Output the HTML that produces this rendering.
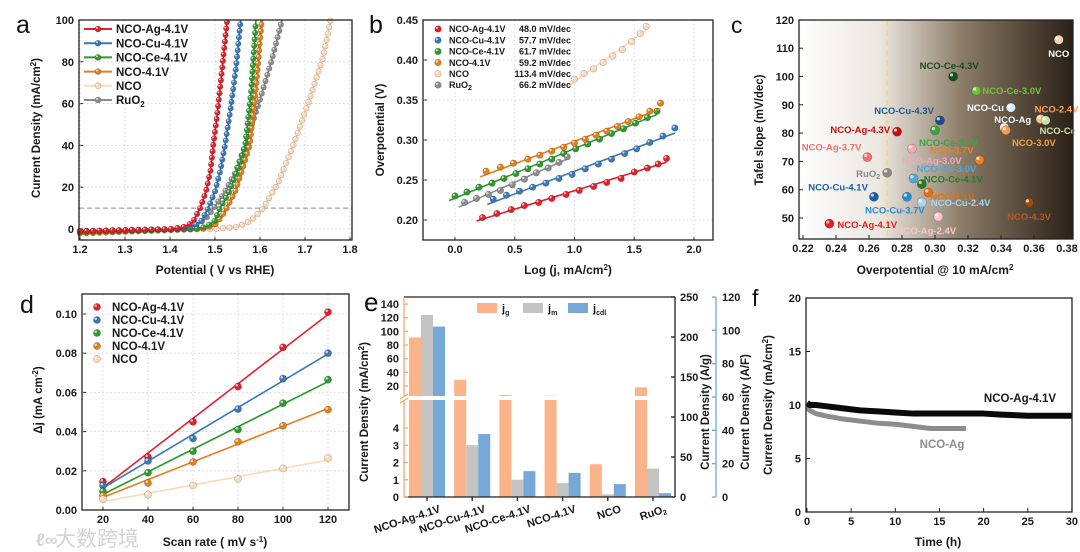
<!DOCTYPE html>
<html><head><meta charset="utf-8"><style>
html,body{margin:0;padding:0;background:#fff;width:1080px;height:552px;overflow:hidden}
svg{display:block;font-family:"Liberation Sans","Noto Sans CJK SC",sans-serif}
.t{font-weight:bold;font-size:11px;fill:#1a1a1a}
.ti{font-weight:bold;font-size:11.5px;fill:#1a1a1a}
</style></head><body>
<svg id="fig" width="1080" height="552" viewBox="0 0 1080 552" xmlns="http://www.w3.org/2000/svg">
<defs>
<linearGradient id="cg" x1="0" x2="1" y1="0" y2="0"><stop offset="0" stop-color="#ffffff"/><stop offset="0.3" stop-color="#ebe6df"/><stop offset="0.6" stop-color="#8a7a66"/><stop offset="1" stop-color="#2a2016"/></linearGradient>
</defs>
<g id="pa"></g>
<g id="pb"></g>
<g id="pc"></g>
<g id="pd"></g>
<g id="pe"></g>
<g id="pf"></g>
<text x="55" y="546" font-size="21" fill="#d4d4d4">大数跨境</text>
<text x="36" y="546" font-size="18" fill="#d4d4d4" font-weight="bold">ℓ∞</text>
</svg>
<script>
// ---------- data ----------
const lsvNames=['NCO-Ag-4.1V','NCO-Cu-4.1V','NCO-Ce-4.1V','NCO-4.1V','NCO','RuO2'];
const lsvColors=['#e0202a','#3a78b8','#2e9a2e','#e08020','#fbd9b8','#8c8c8c'];
const lsvV_Ag=[1.2,1.40,1.43,1.45,1.467,1.48,1.49,1.496,1.505,1.515,1.527];
const lsvJ_Ag=[-1,0,1,3,10,18,28,40,55,75,100];
const lsvV_Cu=[1.2,1.42,1.45,1.47,1.485,1.50,1.512,1.522,1.535,1.547,1.557];
const lsvJ_Cu=[-1,0,1,4,10,18,28,40,58,78,100];
const lsvV_Ce=[1.2,1.45,1.48,1.50,1.511,1.53,1.55,1.567,1.58,1.591];
const lsvJ_Ce=[-1.5,0,1,4,10,17,28,40,65,100];
const lsvV_41=[1.2,1.47,1.50,1.515,1.526,1.545,1.56,1.577,1.59,1.604];
const lsvJ_41=[-2.2,0,2,6,10,18,28,40,65,100];
const lsvV_NCO=[1.2,1.5,1.55,1.58,1.607,1.64,1.674,1.71,1.74,1.757];
const lsvJ_NCO=[-1,0,1,4,10,22,40,62,82,100];
const lsvV_Ru=[1.2,1.42,1.46,1.48,1.497,1.52,1.545,1.567,1.6,1.625,1.649];
const lsvJ_Ru=[-1,0,2,5,10,17,27,40,62,80,100];
const aXTicks=[1.2,1.3,1.4,1.5,1.6,1.7,1.8];
const aYTicks=[0,20,40,60,80,100];

const tafNames=['NCO-Ag-4.1V','NCO-Cu-4.1V','NCO-Ce-4.1V','NCO-4.1V','NCO','RuO<tspan font-size="7" dy="2">2</tspan>'];
const tafSlopes=['48.0 mV/dec','57.7 mV/dec','61.7 mV/dec','59.2 mV/dec','113.4 mV/dec','66.2 mV/dec'];
const tafX_Ag=[0.23,0.35,0.47,0.58,0.70,0.81,0.93,1.04,1.16,1.27,1.39,1.50,1.61,1.70,1.77];
const tafY_Ag=[0.203,0.208,0.213,0.218,0.222,0.227,0.232,0.237,0.242,0.247,0.252,0.260,0.265,0.270,0.277];
const tafX_Cu=[0.32,0.43,0.54,0.65,0.76,0.87,0.98,1.09,1.20,1.31,1.42,1.52,1.63,1.74,1.84];
const tafY_Cu=[0.226,0.231,0.236,0.241,0.246,0.252,0.257,0.264,0.270,0.276,0.283,0.289,0.297,0.305,0.315];
const tafX_Ce=[0.0,0.10,0.20,0.31,0.41,0.51,0.61,0.71,0.81,0.91,1.01,1.11,1.21,1.31,1.41,1.51,1.61,1.69];
const tafY_Ce=[0.230,0.235,0.241,0.246,0.252,0.258,0.264,0.270,0.276,0.283,0.289,0.295,0.301,0.308,0.314,0.321,0.328,0.336];
const tafX_41=[0.26,0.38,0.49,0.61,0.71,0.81,0.91,1.00,1.09,1.18,1.27,1.36,1.45,1.54,1.63,1.72];
const tafY_41=[0.261,0.266,0.271,0.276,0.281,0.286,0.291,0.296,0.301,0.306,0.311,0.317,0.323,0.329,0.336,0.346];
const tafX_NCO=[1.0,1.08,1.16,1.24,1.32,1.40,1.48,1.55,1.60];
const tafY_NCO=[0.376,0.383,0.389,0.397,0.405,0.413,0.423,0.433,0.442];
const tafX_Ru=[0.08,0.18,0.28,0.38,0.48,0.58,0.68,0.78,0.87,0.94];
const tafY_Ru=[0.222,0.227,0.232,0.237,0.244,0.251,0.259,0.265,0.272,0.279];
const bXTicks=[0,0.5,1.0,1.5,2.0];
const bYTicks=[0.20,0.25,0.30,0.35,0.40,0.45];

const scLabels=['NCO','NCO-Ce-4.3V','NCO-Ce-3.0V','NCO-Cu','NCO-2.4V','NCO-Ce','NCO-Ag','NCO-3.0V','NCO-Cu-4.3V','NCO-Ag-4.3V','NCO-Ce-3.7V','NCO-Ag-3.7V','NCO-Ag-3.0V','NCO-3.7V','RuO2','NCO-Cu-3.0V','NCO-Ce-4.1V','NCO-Cu-4.1V','NCO-Cu-3.7V','NCO-4.1V','NCO-Cu-2.4V','NCO-4.3V','NCO-Ag-4.1V','NCO-Ag-2.4V'];
const scEta=[0.375,0.311,0.325,0.346,0.364,0.367,0.342,0.343,0.303,0.277,0.300,0.259,0.286,0.327,0.271,0.287,0.292,0.263,0.283,0.296,0.292,0.357,0.236,0.302];
const scTafel=[113,100,95,89,85,84.5,82,81,84.5,80.5,81,71.5,74.5,70.5,66,64,62,57.5,57.5,59,55.5,55.5,48,50.5];
const scColors=['#f6d2b4','#14501e','#74c040','#dcecfa','#f8c090','#c8e2a8','#f0e2e2','#f0a050','#1a4f8a','#c41010','#3aa63a','#f07070','#f2aabb','#f08020','#8a8a8a','#4aa8e0','#2a7a2a','#1a5faa','#2a8ad0','#e07010','#a8d4f2','#a04a10','#e42020','#f8c4cc'];
const scTextColors=['#ffffff','#14501e','#74c040','#ffffff','#f5a55a','#c8e2a8','#ffffff','#f5a040','#1a5a9a','#c41010','#3aa63a','#f07070','#f2aabb','#f08020','#8a8a8a','#4aa8e0','#2a7a2a','#1a5faa','#2a8ad0','#e07010','#a8d4f2','#b05a20','#e42020','#f8c4cc'];
// label offsets (layout)
const scDx=[0,-4,6,-7,-6,-6,-10,6,-6,-7,-16,-6,-10,-6,-7,3,2,-6,-12,2,9,0,8,-12];
const scDy=[14,-11,0,0,-10,10,-8,12,-10,-2,12,-10,12,-10,1,-10,-5,-10,13,4,0,14,1,14];
const scAnchor=['middle','middle','start','end','start','start','start','start','end','end','start','end','start','end','end','start','start','end','middle','start','start','middle','start','middle'];
const cXTicks=[0.22,0.24,0.26,0.28,0.30,0.32,0.34,0.36,0.38];
const cYTicks=[50,60,70,80,90,100,110,120];

const cdlNames=['NCO-Ag-4.1V','NCO-Cu-4.1V','NCO-Ce-4.1V','NCO-4.1V','NCO'];
const cdlColors=['#e0202a','#3a78b8','#2e9a2e','#e08020','#fbd9b8'];
const scanRates=[20,40,60,80,100,120];
const dj_Ag=[0.0145,0.027,0.045,0.063,0.083,0.101];
const dj_Cu=[0.0125,0.025,0.0365,0.0515,0.067,0.080];
const dj_Ce=[0.0095,0.019,0.030,0.041,0.0545,0.0665];
const dj_41=[0.0073,0.0138,0.0245,0.0348,0.043,0.0512];
const dj_NCO=[0.0055,0.0078,0.0125,0.0158,0.0212,0.0265];
const dXTicks=[20,40,60,80,100,120];
const dYTicks=[0,0.02,0.04,0.06,0.08,0.10];

const eCats=['NCO-Ag-4.1V','NCO-Cu-4.1V','NCO-Ce-4.1V','NCO-4.1V','NCO','RuO<tspan font-size="7" dy="2">2</tspan>'];
const jg=[91,29,7,5.8,1.9,18];
const jm=[124,3.0,1.0,0.8,0.15,1.65];
const jcdl=[107,3.65,1.5,1.4,0.75,0.22];
const eUpperTicks=[20,40,60,80,100,120,140];
const eLowerTicks=[0,1,2,3,4];
const eMidTicks=[0,50,100,150,200,250];
const eRightTicks=[0,20,40,60,80,100,120];

const timeBlack=[0,0.3,1,2,4,6,8,10,12,15,18,20,22,25,28,30];
const jBlack=[10.2,10.0,10.0,9.9,9.7,9.5,9.4,9.3,9.2,9.2,9.2,9.2,9.1,9.0,9.0,9.0];
const timeGray=[0,0.3,1,2,4,6,8,10,12,14,16,18];
const jGray=[9.8,9.5,9.2,9.0,8.7,8.5,8.3,8.2,8.0,7.8,7.8,7.8];
const fXTicks=[0,5,10,15,20,25,30];
const fYTicks=[0,5,10,15,20];

// ---------- helpers ----------
const NS='http://www.w3.org/2000/svg';
function mk(tag,attrs,parent){const e=document.createElementNS(NS,tag);for(const k in attrs)e.setAttribute(k,attrs[k]);parent.appendChild(e);return e;}
function txt(parent,x,y,s,cls,anchor,extra){const a={x:x,y:y,class:cls||'t','text-anchor':anchor||'middle'};let st='';
for(const k in (extra||{})){if(k==='font-size'||k==='fill')st+=k+':'+extra[k]+';';else a[k]=extra[k];}
if(st)a.style=st;const e=mk('text',a,parent);e.innerHTML=s;return e;}
function fmt(v,d){return v.toFixed(d);}
function frame(g,x0,y0,x1,y1,name){const r=mk('rect',{x:x0,y:y0,width:x1-x0,height:y1-y0,fill:'none',stroke:'#222','stroke-width':1.3},g);

return r;}
function xTicks(g,ticks,sx,yb,dec,y0,grid){ticks.forEach(v=>{const x=sx(v);
const l=mk('line',{x1:x,x2:x,y1:yb,y2:yb-4,stroke:'#222','stroke-width':1},g);


if(grid){const gl=mk('line',{x1:x,x2:x,y1:y0,y2:yb,stroke:'#ccc','stroke-dasharray':'1.5,2.5','stroke-width':0.8},g);

}
const t=txt(g,x,yb+13,fmt(v,dec));

});}
function yTicks(g,ticks,sy,xl,dec,x1,grid){ticks.forEach(v=>{const y=sy(v);
const l=mk('line',{x1:xl,x2:xl+4,y1:y,y2:y,stroke:'#222','stroke-width':1},g);


if(grid){const gl=mk('line',{x1:xl,x2:x1,y1:y,y2:y,stroke:'#ccc','stroke-dasharray':'1.5,2.5','stroke-width':0.8},g);

}
const t=txt(g,xl-5,y+4,fmt(v,dec),'t','end');

});}
function dot(g,x,y,r,c){const e=mk('circle',{cx:x,cy:y,r:r,fill:c,stroke:'rgba(0,0,0,0.25)','stroke-width':0.6},g);


const h=mk('circle',{cx:x-r*0.35,cy:y-r*0.35,r:r*0.35,fill:'rgba(255,255,255,0.7)'},g);

return e;}
function fit(xs,ys){const n=xs.length;let sx=0,sy=0,sxx=0,sxy=0;for(let i=0;i<n;i++){sx+=xs[i];sy+=ys[i];sxx+=xs[i]*xs[i];sxy+=xs[i]*ys[i];}const m=(n*sxy-sx*sy)/(n*sxx-sx*sx);return [m,(sy-m*sx)/n];}
function letter(g,x,y,s,size){const t=mk('text',{x:x,y:y,'font-size':size||24,fill:'#111'},g);t.textContent=s;

}
function yTitle(g,x,y,s){const t=txt(g,x,y,s,'ti','middle',{transform:`rotate(-90 ${x} ${y})`});

return t;}
function xTitle(g,x,y,s){const t=txt(g,x,y,s,'ti','middle',{'font-size':'12px'});

return t;}

// ---------- panel a ----------
(function(){const g=document.getElementById('pa');
const ax=v=>80+(v-1.2)*450, ay=j=>229-j*2.09;
letter(g,16,33,'a',25);
xTicks(g,aXTicks,ax,240,1,20,true);yTicks(g,aYTicks,ay,79,0,352,true);
const dl=mk('line',{x1:79,x2:352,y1:ay(10),y2:ay(10),stroke:'#888','stroke-dasharray':'5,3','stroke-width':1},g);


const VS=[lsvV_Ag,lsvV_Cu,lsvV_Ce,lsvV_41,lsvV_NCO,lsvV_Ru],JS=[lsvJ_Ag,lsvJ_Cu,lsvJ_Ce,lsvJ_41,lsvJ_NCO,lsvJ_Ru];
const order=[4,5,3,2,1,0];
order.forEach(k=>{const pts=VS[k].map((v,i)=>[ax(v),ay(JS[k][i])]);
const p=mk('polyline',{points:pts.map(p=>p.join(',')).join(' '),fill:'none',stroke:lsvColors[k],'stroke-width':k==3?3:1.6},g);


let acc=0;for(let i=1;i<pts.length;i++){const dx=pts[i][0]-pts[i-1][0],dy=pts[i][1]-pts[i-1][1],L=Math.hypot(dx,dy);let s=acc;while(s<L){const f=s/L;dot(g,pts[i-1][0]+dx*f,pts[i-1][1]+dy*f,2.8,lsvColors[k]);s+=6.5;}acc=s-L;}
});
frame(g,79,20,352,240,'plot-frame-a');
const names=['NCO-Ag-4.1V','NCO-Cu-4.1V','NCO-Ce-4.1V','NCO-4.1V','NCO','RuO<tspan font-size="8" dy="3">2</tspan>'];
names.forEach((n,i)=>{const y=29+i*14.2;
const l=mk('line',{x1:84,x2:112,y1:y,y2:y,stroke:lsvColors[i],'stroke-width':2},g);


dot(g,98,y,3,lsvColors[i]);
const t=txt(g,116,y+4.2,n,'t','start',{'font-size':'11.5px'});

});
xTitle(g,215,274,'Potential ( V vs RHE)');
yTitle(g,40,128,'Current Density (mA/cm<tspan font-size="8" dy="-4">2</tspan><tspan dy="4">)</tspan>');
})();

// ---------- panel b ----------
(function(){const g=document.getElementById('pb');
const bx=v=>455+v*119.5, by=v=>220-(v-0.2)*800;
letter(g,369,33,'b',25);
xTicks(g,bXTicks,bx,240,1,20,true);yTicks(g,bYTicks,by,423,2,713,true);
const XS=[tafX_Ag,tafX_Cu,tafX_Ce,tafX_41,tafX_NCO,tafX_Ru],YS=[tafY_Ag,tafY_Cu,tafY_Ce,tafY_41,tafY_NCO,tafY_Ru];
XS.forEach((xs,k)=>{const [m,b]=fit(xs,YS[k]);const x0=xs[0]-0.05,x1=xs[xs.length-1];
const l=mk('line',{x1:bx(x0),y1:by(m*x0+b),x2:bx(x1),y2:by(m*x1+b),stroke:lsvColors[k],'stroke-width':1.6},g);


xs.forEach((x,i)=>dot(g,bx(x),by(YS[k][i]),3.3,lsvColors[k]));});
frame(g,423,20,713,240,'plot-frame-b');
tafNames.forEach((n,i)=>{const y=29+i*11.2;dot(g,438,y,3.3,lsvColors[i]);
const t=txt(g,449,y+3.2,n,'t','start',{'font-size':'9px'});


const s=txt(g,571,y+3.2,tafSlopes[i],'t','end',{'font-size':'9px'});

});
xTitle(g,568,274,'Log (j, mA/cm<tspan font-size="8" dy="-4">2</tspan><tspan dy="4">)</tspan>');
yTitle(g,384,130,'Overpotential (V)');
})();

// ---------- panel c ----------
(function(){const g=document.getElementById('pc');
const cx=v=>803+(v-0.22)*1650, cy=v=>218-(v-50)*2.83;
letter(g,731,33,'c',23);
const bg=mk('rect',{x:799,y:20,width:274,height:219,fill:'url(#cg)'},g);


const dl=mk('line',{x1:cx(0.271),x2:cx(0.271),y1:20,y2:239,stroke:'#e8e070','stroke-dasharray':'6,4','stroke-width':1.6},g);


xTicks(g,cXTicks,cx,239,2,20,false);yTicks(g,cYTicks,cy,799,0,1073,false);
scEta.forEach((e,i)=>{dot(g,cx(e),cy(scTafel[i]),4.6,scColors[i]);});
scEta.forEach((e,i)=>{let s=scLabels[i]==='RuO2'?'RuO<tspan font-size="7" dy="2">2</tspan>':scLabels[i];
const t=txt(g,cx(e)+scDx[i],cy(scTafel[i])+scDy[i]+3.5,s,'t',scAnchor[i],{'font-size':'9.5px',fill:scTextColors[i]});

});
frame(g,799,20,1073,239,'plot-frame-c');
xTitle(g,935,274,'Overpotential @ 10 mA/cm<tspan font-size="8" dy="-4">2</tspan>');
yTitle(g,763,130,'Tafel slope (mV/dec)');
})();

// ---------- panel d ----------
(function(){const g=document.getElementById('pd');
const dx=v=>103+(v-20)*2.25, dy=v=>510-v*1960;
letter(g,20,313,'d',25);
xTicks(g,dXTicks,dx,510,0,294,true);yTicks(g,dYTicks,dy,82,2,349,true);
const YS=[dj_Ag,dj_Cu,dj_Ce,dj_41,dj_NCO];
YS.forEach((ys,k)=>{const [m,b]=fit(scanRates,ys);const x0=20,x1=120;
const l=mk('line',{x1:dx(x0),y1:dy(m*x0+b),x2:dx(x1),y2:dy(m*x1+b),stroke:cdlColors[k],'stroke-width':1.6},g);


scanRates.forEach((x,i)=>dot(g,dx(x),dy(ys[i]),3.6,cdlColors[k]));});
frame(g,82,294,349,510,'plot-frame-d');
cdlNames.forEach((n,i)=>{const y=307+i*13;dot(g,97,y,3.6,cdlColors[i]);
const t=txt(g,112,y+4.2,n,'t','start',{'font-size':'11.5px'});

});
xTitle(g,215,546,'Scan rate ( mV s<tspan font-size="8" dy="-4">-1</tspan><tspan dy="4">)</tspan>');
yTitle(g,42,400,'Δj (mA cm<tspan font-size="8" dy="-4">-2</tspan><tspan dy="4">)</tspan>');
})();

// ---------- panel e ----------
(function(){const g=document.getElementById('pe');
const L=5.6;
const eyL=v=> v<=L ? 497-17.25*v : 386-(v-20)*0.683;
const eyM=v=>497-v*0.8, eyR=v=>497-v*(200/120);
const ex=i=>427+i*45.2;
letter(g,364,311,'e',26);
const series=[jg,jm,jcdl],cols=['#fbb48a','#c4c4c4','#76a9d8'],off=[-12,0,12];
series.forEach((arr,s)=>arr.forEach((v,i)=>{const y=eyL(v);
const r=mk('rect',{x:ex(i)+off[s]-6,y:y,width:12,height:497-y,fill:cols[s]},g);

}));
const gap=mk('rect',{x:400,y:396,width:272,height:4,fill:'#fff'},g);


const ln=(x1,y1,x2,y2,c,n)=>{const l=mk('line',{x1,y1,x2,y2,stroke:c,'stroke-width':1.3},g);

};
ln(404,297,675,297,'#222','top-axis');ln(404,497,675,497,'#222','x-axis');
ln(404,297,404,396,'#f5a870','left-axis-upper');ln(404,400,404,497,'#f5a870','left-axis-lower');
ln(400,399,408,394,'#f5a870','break-mark');ln(400,403,408,398,'#f5a870','break-mark');
ln(675,297,675,497,'#222','middle-axis');ln(716,297,716,497,'#6aaad8','right-axis');
eUpperTicks.forEach(v=>{ln(404,eyL(v),408,eyL(v),'#f5a870','y-tick');const t=txt(g,399,eyL(v)+4,v,'t','end');

});
eLowerTicks.forEach(v=>{ln(404,eyL(v),408,eyL(v),'#f5a870','y-tick');const t=txt(g,399,eyL(v)+4,v,'t','end');

});
eMidTicks.forEach(v=>{ln(671,eyM(v),675,eyM(v),'#222','y-tick');const t=txt(g,680,eyM(v)+4,v,'t','start');

});
eRightTicks.forEach(v=>{ln(712,eyR(v),716,eyR(v),'#6aaad8','y-tick');const t=txt(g,722,eyR(v)+4,v,'t','start');

});
eCats.forEach((c,i)=>{ln(ex(i),497,ex(i),501,'#222','x-tick');
const t=txt(g,ex(i)+14,512,c,'t','end',{transform:`rotate(-18 ${ex(i)+14} 512)`});

});
const lg=[['#fbb48a','j<tspan font-size="7" dy="3">g</tspan>',477],['#c4c4c4','j<tspan font-size="7" dy="3">m</tspan>',523],['#76a9d8','j<tspan font-size="7" dy="3">cdl</tspan>',568]];
lg.forEach(([c,s,x])=>{const r=mk('rect',{x:x,y:303,width:20,height:10,fill:c},g);


const t=txt(g,x+25,312,s,'t','start');

});
yTitle(g,368,412,'Current Density (mA/cm<tspan font-size="8" dy="-4">2</tspan><tspan dy="4">)</tspan>');
yTitle(g,709,412,'Current Density (A/g)');
yTitle(g,749,412,'Current Density (A/F)');
})();

// ---------- panel f ----------
(function(){const g=document.getElementById('pf');
const fx=t=>807+t*8.83, fy=v=>512-v*10.7;
const bgr=mk('rect',{x:751,y:288,width:329,height:264,fill:'#fff'},g);


letter(g,752,306,'f',23);
xTicks(g,fXTicks,fx,512,0,298,false);yTicks(g,fYTicks,fy,806,0,1072,false);
const pg=mk('polyline',{points:timeGray.map((t,i)=>fx(t)+','+fy(jGray[i])).join(' '),fill:'none',stroke:'#8c8c8c','stroke-width':5,'stroke-linejoin':'round'},g);


const pb=mk('polyline',{points:timeBlack.map((t,i)=>fx(t)+','+fy(jBlack[i])).join(' '),fill:'none',stroke:'#0a0a0a','stroke-width':6,'stroke-linejoin':'round'},g);


frame(g,806,298,1072,512,'plot-frame-f');
const a=txt(g,1020,402,'NCO-Ag-4.1V','t','middle',{'font-size':'11.5px'});


const b=txt(g,942,448,'NCO-Ag','t','middle',{'font-size':'11.5px',fill:'#8c8c8c'});


xTitle(g,938,546,'Time (h)');
yTitle(g,772,405,'Current Density (mA/cm<tspan font-size="8" dy="-4">2</tspan><tspan dy="4">)</tspan>');
})();
</script>
</body></html>
